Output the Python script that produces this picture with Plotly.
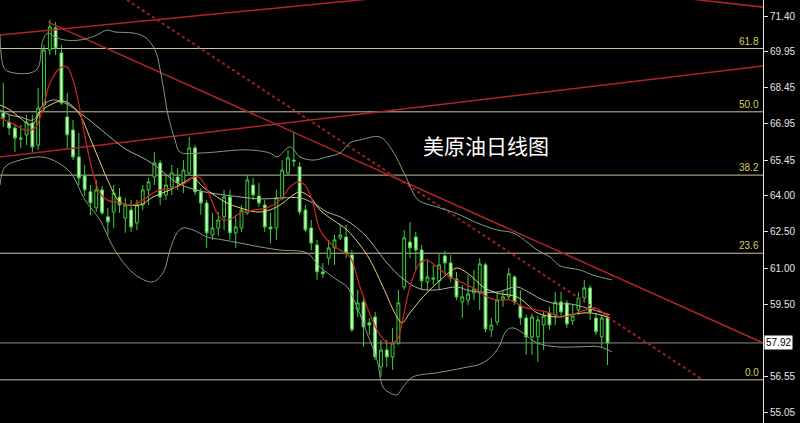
import plotly.graph_objects as go

# ---------------- candle data (daily OHLC) ----------------
opens = [67.40, 67.03, 66.78, 66.37, 66.50, 66.99, 66.08, 67.73, 70.00, 70.91,
         69.88, 67.24, 66.70, 65.59, 64.81, 64.15, 63.49, 64.23, 63.12, 63.32,
         63.94, 63.07, 63.40, 62.87, 63.61, 64.23, 64.76, 65.34, 64.02, 64.35,
         64.76, 64.52, 64.93, 65.96, 64.15, 63.69, 62.37, 62.66, 63.12, 63.94,
         62.46, 62.66, 63.28, 64.43, 63.98, 63.61, 62.70, 62.66, 63.90, 64.93,
         65.46, 65.18, 63.40, 62.66, 61.96, 60.85, 61.42, 61.84, 62.25, 62.29,
         61.55, 59.28, 59.61, 58.75, 58.99, 56.93, 57.63, 57.34, 57.92, 60.23,
         62.08, 62.29, 61.75, 60.44, 60.60, 60.48, 61.51, 61.22, 60.56, 59.61,
         59.69, 59.98, 59.98, 61.14, 58.46, 58.79, 59.69, 59.82, 60.64, 59.45,
         58.95, 58.17, 58.17, 58.66, 59.16, 59.08, 59.61, 59.57, 58.83, 59.28,
         59.78, 60.19, 58.95, 58.17, 58.95]
highs = [68.64, 67.32, 66.91, 66.91, 67.32, 67.32, 68.43, 70.21, 71.24, 71.15,
         70.21, 68.23, 67.11, 66.58, 65.26, 64.43, 64.64, 64.39, 63.49, 64.43,
         64.31, 63.90, 63.82, 63.82, 64.43, 64.72, 65.79, 65.46, 64.85, 65.26,
         65.13, 65.46, 66.41, 66.08, 64.31, 63.82, 63.28, 63.32, 64.23, 64.23,
         63.20, 63.61, 64.85, 64.72, 64.52, 63.82, 63.28, 64.23, 65.46, 65.88,
         66.62, 65.38, 63.61, 62.99, 62.17, 61.22, 62.17, 62.37, 62.79, 62.79,
         61.75, 60.11, 59.82, 58.95, 59.20, 58.05, 58.05, 58.54, 60.11, 62.58,
         62.91, 62.50, 61.96, 61.34, 61.14, 61.63, 61.71, 61.55, 60.85, 60.31,
         60.72, 60.93, 61.42, 61.22, 58.95, 59.98, 60.11, 61.01, 60.72, 60.11,
         59.08, 59.12, 59.03, 59.20, 59.41, 60.02, 60.02, 59.69, 59.49, 60.02,
         60.52, 60.31, 59.16, 59.08, 59.08]
lows = [66.82, 66.50, 65.79, 65.96, 66.08, 65.79, 65.88, 67.44, 69.79, 69.79,
        67.73, 65.96, 65.46, 64.43, 63.98, 63.20, 63.32, 63.20, 62.37, 62.66,
        63.28, 62.46, 62.50, 62.58, 63.40, 63.61, 64.43, 63.61, 63.82, 64.02,
        64.23, 64.10, 64.85, 64.02, 63.20, 61.84, 62.17, 62.33, 62.58, 62.17,
        61.84, 62.50, 63.20, 63.82, 63.53, 62.50, 62.04, 62.17, 63.82, 64.85,
        65.18, 63.20, 62.50, 61.75, 60.52, 60.60, 61.14, 61.14, 62.17, 61.42,
        58.38, 58.99, 57.76, 58.25, 57.22, 56.52, 56.93, 56.81, 57.84, 60.11,
        61.42, 60.93, 60.11, 60.11, 60.31, 60.11, 60.72, 60.44, 59.69, 58.95,
        59.49, 59.69, 59.28, 58.38, 58.17, 58.66, 59.41, 59.69, 59.49, 58.66,
        57.43, 57.43, 57.14, 57.63, 58.46, 58.66, 58.95, 58.54, 58.66, 59.08,
        59.61, 58.87, 58.25, 57.76, 57.01]
closes = [67.20, 66.78, 66.37, 66.33, 67.03, 66.00, 67.61, 70.00, 70.95, 70.08,
          67.81, 66.50, 65.59, 64.72, 64.23, 63.69, 64.23, 63.28, 62.91, 64.10,
          63.61, 63.61, 62.70, 63.61, 64.23, 64.56, 65.34, 63.94, 64.43, 64.93,
          64.52, 65.05, 65.96, 64.15, 63.69, 62.46, 62.66, 62.99, 63.94, 62.46,
          62.70, 63.40, 64.64, 64.02, 63.69, 62.70, 62.62, 63.90, 65.05, 65.55,
          65.42, 63.32, 62.58, 62.04, 60.85, 60.77, 61.84, 62.17, 62.37, 61.63,
          58.46, 59.57, 58.58, 58.66, 57.34, 57.63, 57.34, 57.92, 59.57, 62.25,
          61.84, 61.75, 60.48, 60.64, 60.56, 61.14, 61.22, 60.60, 59.82, 59.82,
          59.94, 60.15, 61.18, 58.50, 58.66, 59.69, 59.82, 60.77, 59.61, 58.95,
          58.17, 58.99, 58.87, 59.03, 58.66, 59.61, 59.20, 58.70, 59.03, 59.78,
          60.19, 59.20, 58.38, 58.95, 57.92]
bars = list(range(len(closes)))

# ---------------- indicator lines ----------------
bb_upper_x = [-0.57, 0.12, 1.15, 4.60, 5.97, 6.83, 7.69, 8.90, 10.62, 13.20, 15.78, 17.85,
              19.23, 22.32, 24.39, 26.11, 27.32, 28.35, 29.55, 30.41, 33.86, 41.94, 45.90,
              47.11, 49.35, 51.07, 53.31, 55.71, 57.95, 59.67, 61.39, 64.84, 66.90, 69.14,
              71.37, 73.44, 76.37, 78.61, 81.53, 84.97, 87.73, 90.14, 91.86, 94.10, 95.82,
              99.26, 101.50, 104.77]
bb_upper = [70.62, 69.26, 69.09, 69.05, 69.26, 70.41, 70.70, 70.53, 70.41, 70.41, 70.58, 70.82,
            70.74, 70.70, 70.53, 70.00, 68.76, 67.32, 66.29, 65.79, 65.75, 65.88, 65.75,
            65.59, 66.00, 65.59, 65.46, 65.59, 65.75, 66.17, 66.29, 66.41, 65.88, 64.85,
            63.82, 63.61, 63.40, 63.20, 62.87, 62.58, 62.46, 62.08, 61.75, 61.47, 61.10,
            60.93, 60.72, 60.52]
bb_lower_x = [-0.57, 0.29, 2.87, 6.32, 8.55, 11.48, 14.06, 16.64, 18.88, 21.29, 23.53, 25.77,
              27.49, 28.69, 29.90, 30.93, 32.65, 35.06, 37.81, 40.74, 44.18, 47.63, 52.27,
              54.51, 57.44, 59.16, 60.88, 62.60, 64.32, 65.35, 66.56, 67.76, 68.80, 70.52,
              74.65, 79.12, 82.57, 84.97, 86.70, 87.73, 89.45, 91.86, 95.30, 99.26, 102.70,
              104.77]
bb_lower = [64.43, 65.18, 65.46, 65.59, 65.46, 64.97, 63.82, 62.99, 61.88, 61.05, 60.60, 60.44,
            60.81, 61.75, 62.46, 62.66, 62.58, 62.29, 62.17, 62.04, 61.88, 61.75, 61.63,
            61.05, 60.52, 60.23, 59.41, 58.33, 57.22, 56.11, 55.86, 55.78, 56.11, 56.52,
            56.69, 56.89, 57.10, 57.63, 58.46, 58.54, 58.33, 57.92, 57.76, 57.76, 57.76,
            57.55]
bb_mid_x = [-0.57, 1.15, 2.87, 5.11, 6.83, 8.55, 10.96, 13.20, 15.44, 18.36, 21.29, 24.04,
            26.45, 29.90, 33.86, 40.74, 44.18, 48.14, 51.07, 53.31, 55.71, 57.95, 60.19,
            62.26, 63.12, 66.04, 68.80, 71.72, 74.65, 78.09, 80.33, 84.97, 88.41, 90.65,
            92.89, 95.30, 97.54, 100.46, 104.42]
bb_mid = [67.53, 67.32, 67.24, 67.11, 67.73, 67.94, 67.77, 67.40, 66.99, 66.41, 65.88, 65.55,
          65.18, 64.52, 64.19, 63.94, 63.86, 63.90, 63.90, 63.69, 63.32, 63.12, 62.79,
          62.37, 62.13, 61.22, 60.56, 60.15, 60.11, 60.23, 60.07, 60.02, 60.23, 59.98,
          59.69, 59.53, 59.53, 59.36, 59.08]
ma_yellow_x = [-0.57, 1.15, 2.87, 4.60, 5.46, 6.32, 8.04, 10.10, 11.48, 13.20, 14.92, 16.64,
               18.36, 20.09, 23.53, 25.77, 28.69, 30.93, 32.65, 34.37, 36.78, 38.50, 40.74,
               43.66, 45.90, 48.14, 49.86, 51.07, 52.79, 54.51, 56.75, 59.16, 61.39, 63.12,
               65.35, 67.76, 68.63, 70.00, 72.24, 74.65, 76.89, 78.09, 80.33, 82.57, 84.97,
               88.41, 90.65, 91.86, 95.30, 97.54, 100.98, 104.42]
ma_yellow = [67.73, 67.53, 67.20, 66.91, 67.03, 67.44, 67.73, 67.90, 67.77, 67.32, 66.37, 65.38,
             64.43, 63.73, 63.61, 63.94, 64.23, 64.52, 64.72, 64.35, 63.94, 63.69, 63.49,
             63.32, 63.40, 63.69, 64.02, 64.15, 63.94, 63.40, 62.99, 62.58, 61.96, 61.34,
             60.23, 58.99, 58.75, 59.16, 59.82, 60.39, 60.85, 61.01, 60.72, 60.23, 59.98,
             59.82, 59.41, 59.16, 58.99, 59.08, 59.16, 58.95]
ma_red_x = [-0.57, 2.01, 3.73, 5.46, 6.32, 7.18, 8.04, 9.76, 10.96, 12.00, 13.20, 14.41, 15.44,
            16.64, 17.85, 20.09, 22.32, 24.04, 25.77, 26.97, 29.90, 31.62, 32.65, 33.86,
            35.23, 36.78, 37.81, 39.53, 40.74, 42.98, 45.39, 47.63, 49.35, 50.72, 51.93,
            53.13, 54.51, 56.23, 57.95, 59.67, 61.39, 63.12, 64.84, 66.21, 67.76, 68.80,
            70.00, 71.72, 72.93, 74.65, 76.89, 79.12, 81.53, 83.25, 84.97, 87.21, 89.45,
            91.86, 94.10, 96.33, 99.26, 101.84, 104.42]
ma_red = [67.20, 66.91, 66.70, 66.78, 67.20, 67.94, 68.64, 69.26, 69.30, 68.76, 67.53, 66.00,
          64.93, 64.10, 63.82, 63.69, 63.61, 63.82, 64.10, 64.23, 64.35, 64.56, 64.76, 64.72,
          64.15, 63.28, 62.99, 63.07, 63.28, 63.40, 63.49, 63.82, 64.35, 64.56, 64.43,
          63.82, 62.58, 62.04, 61.75, 61.47, 60.23, 59.08, 58.25, 57.92, 58.05, 58.95,
          60.23, 61.22, 61.34, 61.05, 60.64, 60.39, 60.11, 59.82, 59.69, 59.69, 59.41,
          59.28, 59.16, 58.99, 59.20, 59.36, 58.95]

# ---------------- drawn trend lines (endpoints: bar index, price) ----------------
trend_lines = [
    ([-0.57, 66.0], [70.62, 72.17]),     # upper rising line
    ([115.0, 131.0], [72.19, 71.76]),    # top-right fragment
    ([-0.57, 130.8], [65.59, 69.34]),    # lower rising line
    ([7.69, 130.8], [71.15, 57.92]),     # falling resistance line
]
dotted_line = ([21.3, 120.4], [72.06, 56.40])

fib_levels = [70.06, 67.45, 64.84, 61.62, 56.40]
fib_labels = ["61.8", "50.0", "38.2", "23.6", "0.0"]
last_price = 57.92
tick_values = [71.40, 69.95, 68.45, 66.95, 65.45, 64.00, 62.50, 61.00, 59.50, 56.55, 55.05]
tick_labels = ["71.40", "69.95", "68.45", "66.95", "65.45", "64.00", "62.50", "61.00",
               "59.50", "56.55", "55.05"]
title_text = "美原油日线图"

# ---------------- figure ----------------
fig = go.Figure()

for xs, ys in trend_lines:
    fig.add_trace(go.Scatter(x=xs, y=ys, mode="lines",
                             line=dict(color="#b02428", width=1.5), hoverinfo="skip"))
fig.add_trace(go.Scatter(x=dotted_line[0], y=dotted_line[1], mode="lines",
                         line=dict(color="#a02020", width=2, dash="dot"), hoverinfo="skip"))

band_color = "#7e9c80"
fig.add_trace(go.Scatter(x=bb_upper_x, y=bb_upper, mode="lines", line_shape="spline",
                         line=dict(color=band_color, width=1), hoverinfo="skip"))
fig.add_trace(go.Scatter(x=bb_lower_x, y=bb_lower, mode="lines", line_shape="spline",
                         line=dict(color=band_color, width=1), hoverinfo="skip"))
fig.add_trace(go.Scatter(x=bb_mid_x, y=bb_mid, mode="lines", line_shape="spline",
                         line=dict(color="#a8b0a8", width=1), hoverinfo="skip"))
fig.add_trace(go.Scatter(x=ma_yellow_x, y=ma_yellow, mode="lines", line_shape="spline",
                         line=dict(color="#e6d070", width=1), hoverinfo="skip"))
fig.add_trace(go.Scatter(x=ma_red_x, y=ma_red, mode="lines", line_shape="spline",
                         line=dict(color="#d02424", width=1.2), hoverinfo="skip"))

fig.add_trace(go.Candlestick(
    x=bars, open=opens, high=highs, low=lows, close=closes,
    increasing=dict(line=dict(color="#3ccf3c", width=1), fillcolor="#000000"),
    decreasing=dict(line=dict(color="#3ccf3c", width=1), fillcolor="#cdf7c0"),
    whiskerwidth=0, hoverinfo="skip"))

shapes = []
for lvl in fib_levels:
    shapes.append(dict(type="line", xref="paper", x0=0, x1=1, yref="y", y0=lvl, y1=lvl,
                       line=dict(color="#c9c3a2", width=1), layer="below"))
shapes.append(dict(type="line", xref="paper", x0=0, x1=1, yref="y", y0=last_price, y1=last_price,
                   line=dict(color="#8c8c8c", width=1), layer="below"))

annotations = []
for lvl, lab in zip(fib_levels, fib_labels):
    annotations.append(dict(xref="paper", x=1, xanchor="right", xshift=-2, yref="y", y=lvl,
                            yanchor="bottom", text=lab, showarrow=False,
                            font=dict(color="#d6cf5a", size=10, family="Liberation Sans")))
annotations.append(dict(xref="paper", x=1, xanchor="left", xshift=1, yref="y", y=last_price,
                        yanchor="middle", text=f"{last_price:.2f}", showarrow=False,
                        bgcolor="#ffffff", borderpad=1,
                        font=dict(color="#000000", size=10, family="Liberation Sans")))
annotations.append(dict(xref="x", x=83.1, yref="y", y=66.08, text=title_text, showarrow=False,
                        font=dict(color="#ffffff", size=21, family="Noto Sans CJK SC")))

fig.update_layout(
    width=800, height=423,
    margin=dict(l=0, r=37, t=0, b=0),
    paper_bgcolor="#000000", plot_bgcolor="#000000",
    showlegend=False,
    shapes=shapes, annotations=annotations,
    xaxis=dict(range=[-0.57, 130.76], visible=False, showgrid=False, zeroline=False,
               rangeslider=dict(visible=False), fixedrange=True),
    yaxis=dict(range=[54.62, 72.06], side="right", showgrid=False, zeroline=False,
               tickvals=tick_values, ticktext=tick_labels, ticks="outside", ticklen=4,
               tickcolor="#e0e0e0", showline=True, linecolor="#e8e8e8", linewidth=1,
               tickfont=dict(color="#e4e4e4", size=10, family="Liberation Sans"),
               automargin=False, fixedrange=True),
)

fig.write_html(
    "out.html",
    config={"displayModeBar": False, "staticPlot": True},
    post_script="document.body.style.margin='0';document.body.style.background='#000';",
)
